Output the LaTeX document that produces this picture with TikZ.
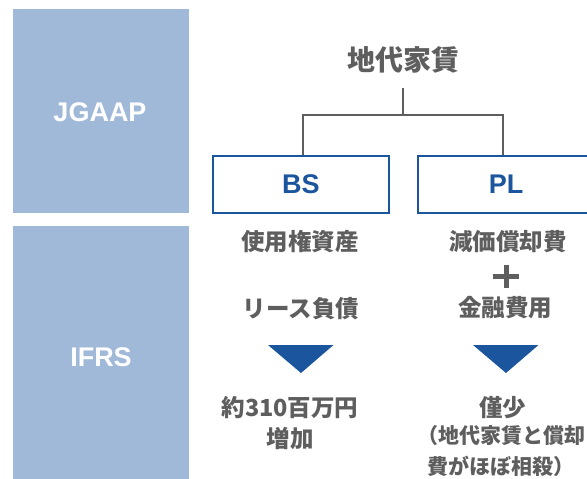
\documentclass[tikz,border=0pt]{standalone}
\usepackage{fontspec}
\setmainfont{Liberation Sans}
\newfontfamily\jp{Noto Sans CJK JP}
\definecolor{band}{HTML}{A0B9D8}
\definecolor{navy}{HTML}{1A559E}
\definecolor{txt}{HTML}{5E5E5E}
\tikzset{
  lat/.style={font=\fontsize{27}{32}\selectfont\bfseries, inner sep=0pt},
  jpm/.style={font=\jp\fontsize{23.5}{28}\selectfont\bfseries, text=txt, inner sep=0pt},
  jps/.style={font=\jp\fontsize{21}{31}\selectfont\bfseries, text=txt, inner sep=0pt, align=center},
  boxst/.style={draw=navy, line width=2pt, fill=white},
  tree/.style={draw=txt, line width=1.8pt},
  tri/.style={fill=navy}
}
\begin{document}
\begin{tikzpicture}[x=1pt,y=-1pt]
\useasboundingbox (0,0) rectangle (587,479);
\clip (0,0) rectangle (587,479);
% left bands
\fill[band] (13,9) rectangle (189,212.5);
\fill[band] (13,226) rectangle (189,479);
\node[lat, text=white] (jgaap) at (100,112) {JGAAP};
\node[lat, text=white] (ifrs) at (101,357.5) {IFRS};
% title and tree
\node[jpm, font=\jp\fontsize{28}{32}\selectfont\bfseries] (title) at (403,60) {地代家賃};
\draw[boxst] (213,156) rectangle (389,212.5);
\draw[boxst] (418,156) rectangle (596,212.5);
\node[lat, text=navy] (bs) at (301,184) {BS};
\node[lat, text=navy] (pl) at (506,184) {PL};
\coordinate (bstop) at (303,155);
\coordinate (pltop) at (503,155);
\coordinate (j) at (403,115);
\coordinate (jtop) at (403,88);
\draw[tree] (jtop) -- (j);
\draw[tree] (bstop) |- (j) -| (pltop);
% left column
\node[jpm] (rou) at (300,242) {使用権資産};
\node[jpm] (lease) at (301,309) {リース負債};
\fill[tri] (268,345) -- (333.5,345) -- (301,373) -- cycle;
\node[jpm] (amt) at (290,408) {約310百万円};
\node[jpm] (inc) at (290,439) {増加};
% right column
\node[jpm] (dep) at (508,242) {減価償却費};
\draw[draw=txt, line width=5pt] (493,276) -- (519,276) (506,264.5) -- (506,288);
\node[jpm] (fin) at (505,308) {金融費用};
\fill[tri] (473,345) -- (538.5,345) -- (506,373) -- cycle;
\node[jpm] (small) at (502.5,408) {僅少};
\node[jps] (note) at (501,451.5) {（地代家賃と償却\\費がほぼ相殺）};
\end{tikzpicture}
\end{document}
